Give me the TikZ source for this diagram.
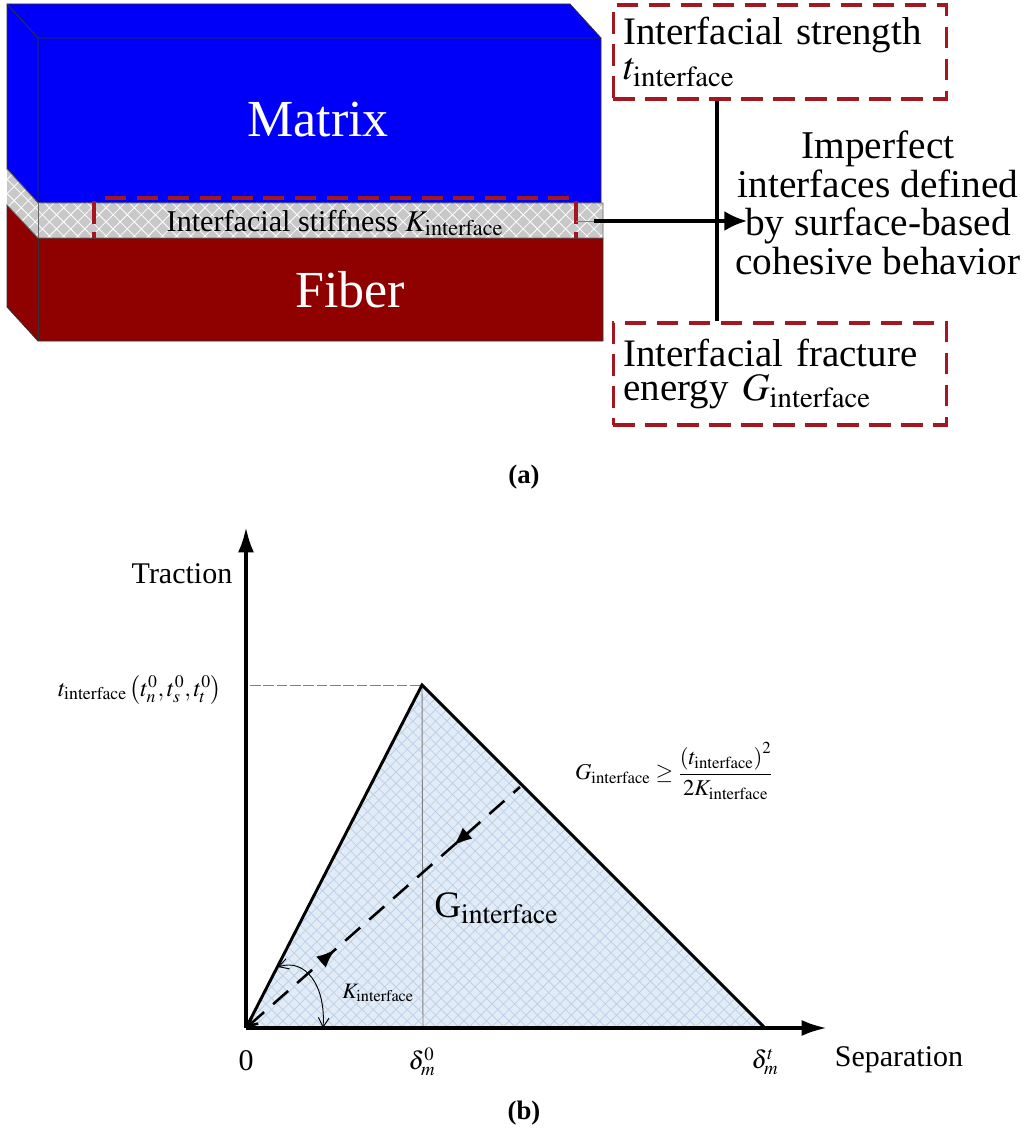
\documentclass[tikz,border=0pt]{standalone}
\usepackage{amsmath}
\usepackage{mathptmx}
\usepackage[no-math]{fontspec}
\setmainfont{Liberation Serif}
\usetikzlibrary{arrows.meta, patterns.meta, decorations.markings, positioning}
\definecolor{MatrixBlue}{RGB}{0,0,250}
\definecolor{FiberRed}{RGB}{143,0,0}
\definecolor{BoxRed}{RGB}{163,24,32}
\definecolor{BandGray}{RGB}{200,200,200}
\definecolor{AreaBlue}{RGB}{226,236,247}
\definecolor{HatchBlue}{RGB}{190,208,232}
\newcommand{\fsize}[1]{\fontsize{#1}{#1}\selectfont}
\newcommand{\intf}{\mathrm{interface}}
\tikzset{
  >=latex,
  % solid parts
  face/.style={draw=black!80,line width=0.6pt},
  band hatch/.style={pattern={Lines[angle=45,distance=7.5pt,line width=0.6pt]},pattern color=white},
  band hatch b/.style={pattern={Lines[angle=-45,distance=7.5pt,line width=0.6pt]},pattern color=white},
  area hatch/.style={pattern={Lines[angle=45,distance=6pt,line width=0.6pt]},pattern color=HatchBlue},
  area hatch b/.style={pattern={Lines[angle=-45,distance=6pt,line width=0.6pt]},pattern color=HatchBlue},
  % boxes and connectors
  dash red/.style={draw=BoxRed,line width=2.3pt,dash pattern=on 16pt off 8pt},
  box/.style={dash red,minimum width=250pt,text width=235pt,align=left,inner sep=0pt,font=\fsize{29.2}},
  connect/.style={line width=2.5pt,black},
  connect arrow/.style={-{Latex[length=17pt,width=15pt]},line width=2.5pt,black},
  axis/.style={-{Latex[length=19pt,width=12pt]},line width=2.8pt,black},
  label big/.style={white,font=\fsize{39}},
  label/.style={font=\fsize{22.5}},
  caption/.style={font=\fsize{20}\bfseries}
}
\begin{document}
\begin{tikzpicture}[x=0.75pt,y=-0.75pt]
  \useasboundingbox (0,0) rectangle (1024,1134);
  % matrix
  \fill[MatrixBlue,face] (7,4)--(570,4)--(601,38)--(601,203)--(38,203)--(7,169)--cycle;
  \draw[black!80,line width=0.6pt] (7,4)--(38,38)--(601,38) (38,38)--(38,203);
  % fiber
  \fill[FiberRed,face] (7,205)--(38,238)--(603,238)--(603,341)--(38,341)--(7,307)--cycle;
  \draw[black!80,line width=0.6pt] (38,238)--(38,341);
  % interface
  \fill[BandGray] (7,169)--(38,203)--(603,203)--(603,238)--(38,238)--(7,205)--cycle;
  \fill[band hatch] (7,169)--(38,203)--(603,203)--(603,238)--(38,238)--(7,205)--cycle;
  \fill[band hatch b] (7,169)--(38,203)--(603,203)--(603,238)--(38,238)--(7,205)--cycle;
  \draw[black!60,line width=0.6pt] (7,169)--(38,203)--(603,203)--(603,238)--(38,238)--(7,205);
  \draw[black!60,line width=0.6pt] (38,203)--(38,238);
  \draw[dash red,dash pattern=on 15.75pt off 8pt] (105,198)--(570,198);
  \draw[dash red,dash pattern=on 17pt off 6pt] (94,201)--(94,238);
  \draw[dash red,dash pattern=on 17pt off 6pt] (576,201)--(576,238);
  \node (matrix) [label big] at (318,120) {Matrix};
  \node (fiber) [label big] at (350,290) {Fiber};
  \node (stiffness) [font=\fsize{22.6}] at (335,223) {Interfacial stiffness $K_{\intf}$};
  % boxes on the right
  \node (strength) [box,minimum height=70.5pt] at (780,52) {Interfacial strength\\[-3pt]$t_{\intf}$};
  \node (fracture) [box,minimum height=76.5pt] at (780,374) {Interfacial fracture\\[-3pt]energy $G_{\intf}$};
  \node (imperfect) [font=\fsize{29.5},align=center,inner sep=0pt] at (878,203)
    {Imperfect\\[-0.6pt]interfaces defined\\[-0.6pt]by surface-based\\[-0.6pt]cohesive behavior};
  \coordinate (band end) at (594,221);
  \coordinate (band mark) at (576,221);
  \coordinate (spine) at (717,221);
  \coordinate (arrow tip) at (747,221);
  \draw[connect] (strength.south -| spine) -- (fracture.north -| spine);
  \draw[black!50,line width=0.6pt] (band mark) -- (band end);
  \draw[connect arrow] (band end) -- (arrow tip);
  \node (cap a) [caption] at (524,477) {(a)};
  % traction-separation law
  \coordinate (origin) at (246,1028);
  \coordinate (peak) at (422,685);
  \coordinate (failure) at (765,1028);
  \coordinate (y end) at (246,527);
  \coordinate (x end) at (827,1028);
  \coordinate (peak y) at (250,685);
  \coordinate (peak x) at (423,1028);
  \coordinate (unload) at (520,787);
  \fill[AreaBlue] (origin)--(peak)--(failure)--cycle;
  \fill[area hatch] (origin)--(peak)--(failure)--cycle;
  \fill[area hatch b] (origin)--(peak)--(failure)--cycle;
  \draw[gray,line width=0.7pt,dashed,dash pattern=on 8pt off 2pt] (peak y)--(peak);
  \draw[gray,line width=0.7pt] (peak)--(peak x);
  \draw[line width=2.2pt,line join=miter] (origin)--(peak)--(failure);
  \draw[axis] (origin)--(y end);
  \draw[axis] (origin)--(x end);
  \draw[{Straight Barb[length=7pt,width=7pt]}-,line width=1.9pt,dash pattern=on 15pt off 9pt,
    postaction={decorate,decoration={markings,
      mark=at position 0.325 with {\arrow{Latex[length=14pt,width=11pt]}},
      mark=at position 0.757 with {\arrowreversed{Latex[length=14pt,width=11pt]}}}}]
    (origin)--(unload);
  \coordinate (arc a) at (278,967);
  \coordinate (arc b) at (323,1028);
  \draw[{Straight Barb[length=7pt,width=8pt]}-{Straight Barb[length=7pt,width=8pt]},line width=0.7pt]
    (arc a) .. controls (305,958) and (326,985) .. (arc b);
  \node (traction) [label] at (182,574) {Traction};
  \node (separation) [label] at (899,1060) {Separation};
  \node (zero) [label] at (246,1061) {0};
  \node (delta zero) [font=\fsize{19}] at (422,1062) {$\delta_m^0$};
  \node (delta t) [font=\fsize{19}] at (765,1062) {$\delta_m^t$};
  \node (strength law) [font=\fsize{18}] at (140,690)
    {$t_{\intf}\left(t_n^0,t_s^0,t_t^0\right)$};
  \node (energy law) [font=\fsize{17}] at (674,771)
    {$G_{\intf}\geq\dfrac{\left(t_{\intf}\right)^2}{2K_{\intf}}$};
  \node (area) [font=\fsize{28},anchor=base west,inner sep=0pt] at (434,917) {G$_{\intf}$};
  \node (stiff law) [font=\fsize{16.5},anchor=base west,inner sep=0pt] at (342,998) {$K_{\intf}$};
  \node (cap b) [caption] at (524,1113) {(b)};
\end{tikzpicture}
\end{document}
